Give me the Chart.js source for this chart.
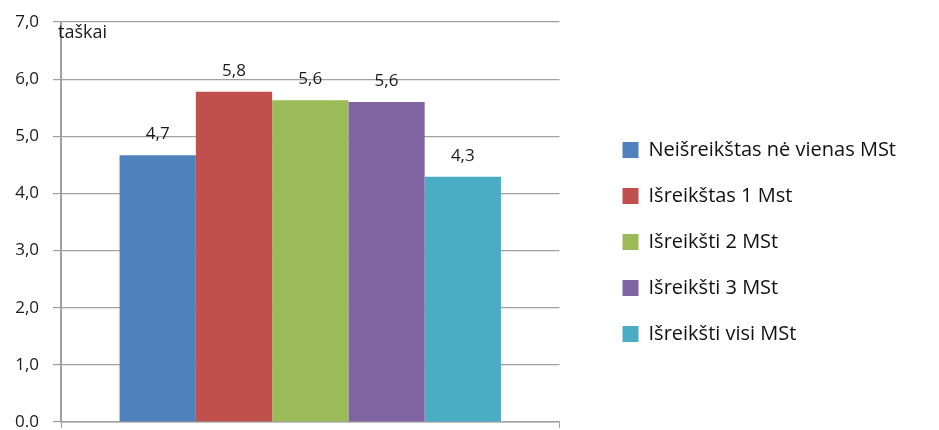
<!DOCTYPE html>
<html>
<head>
    <title>Taškai pagal MSt</title>
    <style>
        body { margin: 0; background: #fff; }
        canvas { display: block; }
    </style>
</head>
<body>
    <canvas id="chart" width="939" height="430"></canvas>
    <script src="https://cdn.jsdelivr.net/npm/chart.js@4/dist/chart.umd.min.js"></script>
    <script>
        // Duomenys
        const categories = [''];
        const seriesNames = ['Neišreikštas nė vienas MSt', 'Išreikštas 1 Mst', 'Išreikšti 2 MSt', 'Išreikšti 3 MSt', 'Išreikšti visi MSt'];
        const seriesValues = [4.67, 5.78, 5.63, 5.6, 4.29];
        const seriesColors = ['#4F81BD', '#C0504D', '#9BBB59', '#8064A2', '#4BACC6'];
        const yTickLabels = ['0.0', '1,0', '2,0', '3,0', '4,0', '5,0', '6,0', '7,0'];
        const yTitle = 'taškai';

        const FONT = '"Open Sans", Lato, sans-serif';
        const gridColor = '#a0a0a0';

        // Reikšmės virš stulpelių + ašies pavadinimas
        const labelsPlugin = {
            id: 'valueLabels',
            afterDatasetsDraw(chart) {
                const ctx = chart.ctx;
                ctx.save();
                ctx.fillStyle = '#1a1a1a';
                ctx.font = '17px ' + FONT;
                ctx.textAlign = 'center';
                ctx.textBaseline = 'middle';
                chart.data.datasets.forEach((ds, i) => {
                    const bar = chart.getDatasetMeta(i).data[0];
                    const txt = ds.data[0].toFixed(1).replace('.', ',');
                    ctx.fillText(txt, bar.x, bar.y - 21);
                });
                const area = chart.chartArea;
                ctx.textAlign = 'left';
                ctx.font = '18px ' + FONT;
                ctx.fillText(yTitle, area.left - 3, area.top + 11);
                ctx.restore();
            }
        };

        const datasets = seriesNames.map((name, i) => ({
            label: name,
            data: [seriesValues[i]],
            backgroundColor: seriesColors[i],
            borderWidth: 0,
            categoryPercentage: 0.765,
            barPercentage: 1.0
        }));

        new Chart(document.getElementById('chart'), {
            type: 'bar',
            data: { labels: categories, datasets: datasets },
            plugins: [labelsPlugin],
            options: {
                responsive: false,
                animation: false,
                layout: { padding: { top: 22, bottom: 2, left: 0, right: 33 } },
                plugins: {
                    tooltip: { enabled: false },
                    legend: {
                        position: 'right',
                        align: 'start',
                        maxWidth: 400,
                        title: { display: true, text: '', padding: { top: 80, bottom: 0 }, font: { size: 10 } },
                        labels: {
                            boxWidth: 16,
                            boxHeight: 16,
                            padding: 26,
                            color: '#111',
                            font: { family: FONT, size: 20 }
                        }
                    }
                },
                scales: {
                    x: {
                        afterFit(s) { s.height = 6; },
                        grid: { display: true, drawOnChartArea: false, drawTicks: true, tickLength: 6, color: gridColor },
                        border: { display: true, color: gridColor, width: 1.5 },
                        ticks: { display: false }
                    },
                    y: {
                        min: 0,
                        max: 7,
                        afterFit(s) {
                            s.width = 61;
                            s.paddingTop = 0;
                            s.paddingBottom = 0;
                        },
                        ticks: {
                            stepSize: 1,
                            padding: 14,
                            color: '#1a1a1a',
                            font: { family: FONT, size: 17 },
                            callback: (v, idx) => yTickLabels[idx]
                        },
                        grid: { color: gridColor, tickLength: 8, lineWidth: 1.2 },
                        border: { display: true, color: gridColor, width: 2 }
                    },
                    yr: {
                        type: 'linear',
                        position: 'right',
                        display: true,
                        afterFit(s) { s.width = 37; },
                        grid: { display: false },
                        ticks: { display: false },
                        border: { display: false }
                    }
                }
            }
        });
    </script>
</body>
</html>
